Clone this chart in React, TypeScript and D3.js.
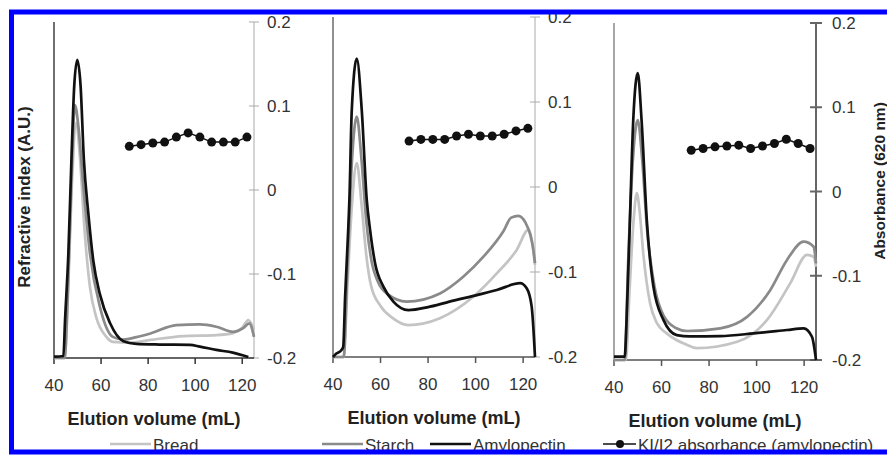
import React, { useEffect, useRef } from 'react'
import * as d3 from 'd3';

// elution volume (mL) vs refractive index (A.U., 0..1) for each panel
const bread1 = [[40, 0], [44.5, 0], [46, 0.2], [47.5, 0.5], [49.5, 0.7], [51, 0.6], [53, 0.38], [55.3, 0.21], [58, 0.12], [62, 0.065], [65, 0.048], [72, 0.046], [81, 0.054], [95, 0.065], [109, 0.068], [116, 0.074], [120, 0.09], [122.6, 0.113], [125, 0.085]];
const starch1 = [[40, 0], [44.5, 0], [46, 0.22], [47.5, 0.55], [48.9, 0.753], [50.5, 0.68], [52.5, 0.51], [55.3, 0.31], [59.6, 0.15], [65, 0.063], [69.5, 0.055], [75, 0.062], [81, 0.073], [92, 0.098], [102, 0.1], [109, 0.093], [116, 0.078], [120.4, 0.089], [123, 0.103], [125, 0.063]];
const amylo1 = [[40, 0.004], [44, 0.006], [44.7, 0.113], [46.1, 0.31], [47.5, 0.61], [48.6, 0.81], [49.9, 0.887], [51.3, 0.81], [52.7, 0.59], [54.6, 0.43], [56.7, 0.29], [59.5, 0.19], [63.8, 0.104], [69.5, 0.05], [75, 0.042], [85, 0.04], [97.8, 0.039], [102, 0.034], [109, 0.024], [116, 0.016], [122.6, 0.003]];

const bread2 = [[40, 0], [44.5, 0], [46, 0.2], [48, 0.45], [50, 0.57], [52, 0.45], [54, 0.3], [56, 0.21], [60, 0.15], [65, 0.115], [71.7, 0.094], [85, 0.114], [99, 0.177], [108.9, 0.246], [117.3, 0.315], [122.2, 0.374], [124, 0.33], [125, 0.27]];
const starch2 = [[40, 0], [44.5, 0], [46, 0.25], [48, 0.58], [50, 0.707], [52, 0.58], [54, 0.4], [56, 0.29], [59, 0.22], [63, 0.185], [71, 0.163], [85, 0.187], [94.8, 0.236], [103.3, 0.295], [111.7, 0.37], [115, 0.41], [118, 0.415], [121, 0.395], [123, 0.36], [124.3, 0.315], [125, 0.276]];
const amylo2 = [[40, 0], [41.4, 0.01], [43.5, 0.02], [44.3, 0.03], [45.1, 0.177], [46.4, 0.374], [46.9, 0.462], [47.9, 0.726], [50, 0.878], [52.1, 0.726], [54.2, 0.462], [55.6, 0.374], [57.7, 0.276], [61.2, 0.207], [65.4, 0.163], [71.7, 0.138], [80.8, 0.148], [92, 0.168], [100.5, 0.182], [108.9, 0.197], [118.7, 0.217], [121.5, 0.202], [123.6, 0.148], [125, 0]];

const bread3 = [[40, 0], [45, 0], [46.5, 0.2], [48.3, 0.42], [49.6, 0.495], [50.8, 0.44], [52.3, 0.317], [55.2, 0.168], [58, 0.11], [62.2, 0.079], [70.6, 0.045], [74.9, 0.035], [91.8, 0.054], [104.4, 0.119], [114.2, 0.228], [121.2, 0.312], [124, 0.306], [125, 0.277]];
const starch3 = [[40, 0], [44.5, 0], [46, 0.3], [48, 0.6], [50, 0.712], [51.8, 0.6], [54, 0.38], [57, 0.22], [61, 0.13], [66, 0.095], [70.7, 0.086], [84.7, 0.094], [96, 0.128], [105.8, 0.208], [112.8, 0.297], [119.8, 0.351], [124, 0.336], [125, 0.287]];
const amylo3 = [[40, 0.01], [44.5, 0.01], [45.3, 0.119], [46.7, 0.415], [48.1, 0.712], [50, 0.851], [51.6, 0.712], [53.8, 0.415], [56.6, 0.217], [60.8, 0.119], [66.4, 0.074], [72, 0.07], [84.7, 0.071], [98.8, 0.079], [112.8, 0.089], [119.8, 0.094], [123.3, 0.069], [125, 0]];

// KI/I2 absorbance (620 nm), amylopectin fractions
const kiVolumes1 = [72, 77, 82, 87, 92, 97, 102, 107, 112, 117, 122];
const ki1 = [0.052, 0.054, 0.056, 0.057, 0.063, 0.068, 0.063, 0.057, 0.057, 0.057, 0.063];
const kiVolumes2 = [72, 77, 82, 87, 92, 97, 102, 107, 112, 117, 122];
const ki2 = [0.054, 0.056, 0.056, 0.056, 0.06, 0.062, 0.06, 0.06, 0.062, 0.066, 0.069];
const kiVolumes3 = [72.5, 77.5, 82.5, 87.5, 92.5, 97.5, 102.5, 107.5, 112.5, 117.5, 122.5];
const ki3 = [0.049, 0.051, 0.053, 0.054, 0.055, 0.051, 0.054, 0.057, 0.062, 0.057, 0.051];

const xTicks = [40, 60, 80, 100, 120];
const absTicks = [-0.2, -0.1, 0, 0.1, 0.2];
const legendItems = ['Bread', 'Starch', 'Amylopectin', 'KI/I2 absorbance (amylopectin)'];

const FONT = '"Liberation Sans", Arial, sans-serif';

export default function App() {

    const svgRef = useRef(null);

    const width = 887;
    const height = 457;

    const panels = [
        { x0: 54, x1: 254, top: 22, bottom: 358, bread: bread1, starch: starch1, amylo: amylo1, kiX: kiVolumes1, kiY: ki1, leftColor: '#222', xColor: '#333', rightColor: '#aaa', rightW: 1, tickHalf: 5, gap: 13 },
        { x0: 333, x1: 535, top: 17, bottom: 357, bread: bread2, starch: starch2, amylo: amylo2, kiX: kiVolumes2, kiY: ki2, leftColor: '#555', xColor: '#555', rightColor: '#aaa', rightW: 1, tickHalf: 5, gap: 13 },
        { x0: 614, x1: 816, top: 23, bottom: 360, bread: bread3, starch: starch3, amylo: amylo3, kiX: kiVolumes3, kiY: ki3, leftColor: '#777', xColor: '#555', rightColor: '#666', rightW: 2, tickHalf: 6, gap: 16 }
    ];

    const renderPanel = (svg, p) => {
        const x = d3.scaleLinear().domain([40, 125]).range([p.x0, p.x1]);
        const yRI = d3.scaleLinear().domain([0, 1]).range([p.bottom, p.top]);
        const yAbs = d3.scaleLinear().domain([-0.2, 0.2]).range([p.bottom, p.top]);

        const g = svg.append('g');

        // left axis (no ticks)
        g.append('line')
            .attr('x1', p.x0).attr('x2', p.x0)
            .attr('y1', p.top).attr('y2', p.bottom)
            .attr('stroke', p.leftColor).attr('stroke-width', 1.3);

        // right axis
        g.append('line')
            .attr('x1', p.x1).attr('x2', p.x1)
            .attr('y1', p.top).attr('y2', p.bottom)
            .attr('stroke', p.rightColor).attr('stroke-width', p.rightW);

        g.selectAll('.rtick')
            .data(absTicks)
            .enter()
            .append('line')
            .attr('x1', p.x1 - p.tickHalf).attr('x2', p.x1 + p.tickHalf)
            .attr('y1', d => yAbs(d)).attr('y2', d => yAbs(d))
            .attr('stroke', p.rightColor).attr('stroke-width', p.rightW);

        g.selectAll('.rlabel')
            .data(absTicks)
            .enter()
            .append('text')
            .attr('x', p.x1 + p.gap)
            .attr('y', d => yAbs(d) + 6)
            .text(d => d === 0 ? '0' : d3.format('.1f')(d).replace('−', '-'))
            .attr('fill', '#333')
            .style('font-family', FONT)
            .style('font-size', '17px');

        // x axis
        g.append('line')
            .attr('x1', p.x0).attr('x2', p.x1)
            .attr('y1', p.bottom).attr('y2', p.bottom)
            .attr('stroke', p.xColor).attr('stroke-width', 1.5);

        g.selectAll('.xtick')
            .data(xTicks)
            .enter()
            .append('line')
            .attr('x1', d => x(d)).attr('x2', d => x(d))
            .attr('y1', p.bottom).attr('y2', p.bottom + 6)
            .attr('stroke', p.xColor).attr('stroke-width', 1.5);

        g.selectAll('.xlabel')
            .data(xTicks)
            .enter()
            .append('text')
            .attr('x', d => x(d))
            .attr('y', p.bottom + 33)
            .attr('text-anchor', 'middle')
            .text(d => d)
            .attr('fill', '#333')
            .style('font-family', FONT)
            .style('font-size', '17px');

        g.append('text')
            .attr('x', (p.x0 + p.x1) / 2)
            .attr('y', p.bottom + 67)
            .attr('text-anchor', 'middle')
            .text('Elution volume (mL)')
            .attr('fill', '#222')
            .style('font-family', FONT)
            .style('font-weight', 'bold')
            .style('font-size', '18px');

        // curves
        const line = d3.line()
            .x(d => x(d[0]))
            .y(d => yRI(d[1]))
            .curve(d3.curveMonotoneX);

        const series = [
            { data: p.bread, color: '#c4c4c4' },
            { data: p.starch, color: '#8a8a8a' },
            { data: p.amylo, color: '#111' }
        ];

        series.forEach(s => {
            g.append('path')
                .attr('d', line(s.data))
                .attr('fill', 'none')
                .attr('stroke', s.color)
                .attr('stroke-width', 2.7)
                .attr('stroke-linejoin', 'round');
        });

        // KI/I2 absorbance
        const pts = p.kiX.map((v, i) => [v, p.kiY[i]]);

        g.append('path')
            .attr('d', d3.line().x(d => x(d[0])).y(d => yAbs(d[1]))(pts))
            .attr('fill', 'none')
            .attr('stroke', '#111')
            .attr('stroke-width', 1.5);

        g.selectAll('.dot')
            .data(pts)
            .enter()
            .append('circle')
            .attr('cx', d => x(d[0]))
            .attr('cy', d => yAbs(d[1]))
            .attr('r', 4.5)
            .attr('fill', '#111');
    }

    const renderLegend = (svg) => {
        const ly = 444;
        const items = [
            { x: 110, color: '#c4c4c4', dot: false },
            { x: 322, color: '#8a8a8a', dot: false },
            { x: 430, color: '#111', dot: false },
            { x: 603, color: '#111', dot: true }
        ];

        items.forEach((it, i) => {
            svg.append('line')
                .attr('x1', it.x).attr('x2', it.x + (it.dot ? 33 : 41))
                .attr('y1', ly).attr('y2', ly)
                .attr('stroke', it.color)
                .attr('stroke-width', it.dot ? 1.5 : 2.7);

            if (it.dot) {
                svg.append('circle')
                    .attr('cx', it.x + 17).attr('cy', ly)
                    .attr('r', 4).attr('fill', '#111');
            }

            svg.append('text')
                .attr('x', it.x + (it.dot ? 35 : 43))
                .attr('y', 451)
                .text(legendItems[i])
                .attr('fill', '#333')
                .style('font-family', FONT)
                .style('font-size', '17px');
        });
    }

    useEffect(() => {
        const svg = d3.select(svgRef.current);
        svg.selectAll('*').remove();

        svg.append('rect')
            .attr('width', width).attr('height', height)
            .attr('fill', '#fff');

        panels.forEach(p => renderPanel(svg, p));

        // axis titles
        svg.append('text')
            .attr('transform', 'translate(30, 197) rotate(-90)')
            .attr('text-anchor', 'middle')
            .text('Refractive index (A.U.)')
            .attr('fill', '#222')
            .style('font-family', FONT)
            .style('font-weight', 'bold')
            .style('font-size', '17px');

        svg.append('text')
            .attr('transform', 'translate(885, 181) rotate(-90)')
            .attr('text-anchor', 'middle')
            .text('Absorbance (620 nm)')
            .attr('fill', '#222')
            .style('font-family', FONT)
            .style('font-weight', 'bold')
            .style('font-size', '15.5px');

        renderLegend(svg);

        // blue frame
        svg.append('rect')
            .attr('x', 11.5).attr('y', 12)
            .attr('width', 900).attr('height', 440)
            .attr('fill', 'none')
            .attr('stroke', '#0000ff')
            .attr('stroke-width', 5);

    }, [])

    return (
        <svg ref={svgRef} width={width} height={height}
            style={{ position: 'absolute', left: 0, top: 0, display: 'block' }}></svg>
    )
}
